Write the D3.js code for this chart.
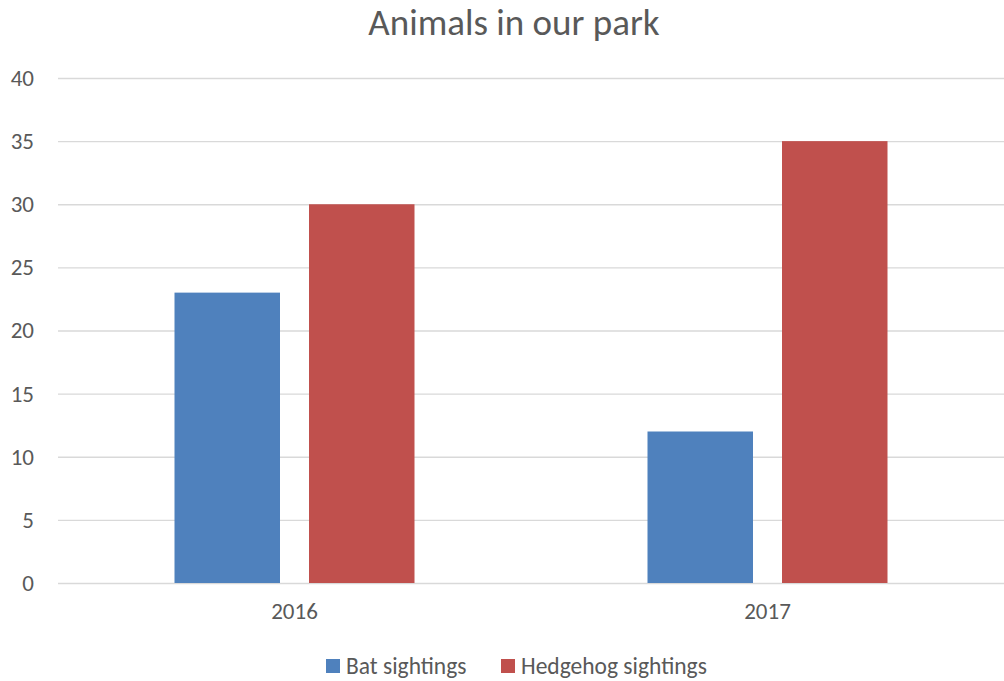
<!DOCTYPE html>
<html><head><meta charset="utf-8">
<script src="https://cdn.jsdelivr.net/npm/d3@7"></script>
<style>body{margin:0;background:#fff;}svg{display:block;}</style>
</head><body>
<svg id="c" width="1004" height="681"></svg>
<script>
const categories = ["2016", "2017"];
const seriesNames = ["Bat sightings", "Hedgehog sightings"];
const batValues = [23, 12];
const hedgehogValues = [30, 35];
const yTicks = [0, 5, 10, 15, 20, 25, 30, 35, 40];
const colors = ["#4F81BD", "#C0504D"];

(function () {
const series = [batValues, hedgehogValues];
const svg = d3.select("#c");
const font = "Carlito, Lato, 'Open Sans', sans-serif";
const mLeft = 58, mRight = 1004, mTop = 78, mBottom = 583;

const y = d3.scaleLinear().domain([0, 40]).range([mBottom, mTop]);
const x0 = d3.scaleBand().domain(categories).range([mLeft, mRight]).paddingInner(0.4926).paddingOuter(0.2463);
const x1 = d3.scaleBand().domain(seriesNames).range([0, x0.bandwidth()]).paddingInner(0.2156);

svg.append("text").attr("x", 514).attr("y", 35).attr("text-anchor", "middle")
  .attr("font-family", font).attr("font-size", 37).attr("fill", "#595959").text("Animals in our park");

const yAxis = d3.axisLeft(y).tickValues(yTicks).tickSize(-(mRight - mLeft)).tickPadding(24);
const gy = svg.append("g").attr("transform", `translate(${mLeft},0)`).call(yAxis);
gy.select(".domain").remove();
gy.selectAll(".tick line").attr("stroke", "#d9d9d9").attr("stroke-width", 1.3);
gy.selectAll(".tick text").attr("font-family", font).attr("font-size", 23).attr("fill", "#595959");

const groups = svg.append("g").selectAll("g").data(categories).join("g")
  .attr("transform", d => `translate(${x0(d)},0)`);
groups.selectAll("rect").data((d, i) => seriesNames.map((s, j) => ({s, v: series[j][i], c: colors[j]})))
  .join("rect")
  .attr("x", d => x1(d.s)).attr("width", x1.bandwidth())
  .attr("y", d => y(d.v)).attr("height", d => y(0) - y(d.v))
  .attr("fill", d => d.c);

const xAxis = d3.axisBottom(x0).tickSize(0).tickPadding(20);
const gx = svg.append("g").attr("transform", `translate(0,${mBottom})`).call(xAxis);
gx.select(".domain").remove();
gx.selectAll(".tick text").attr("font-family", font).attr("font-size", 23).attr("fill", "#595959");

const legendX = [326, 501];
const lg = svg.append("g").selectAll("g").data(seriesNames).join("g")
  .attr("transform", (d, i) => `translate(${legendX[i]},659)`);
lg.append("rect").attr("width", 14).attr("height", 14).attr("fill", (d, i) => colors[i]);
lg.append("text").attr("x", 20).attr("y", 15).attr("font-family", font).attr("font-size", 23.5)
  .attr("fill", "#595959").text(d => d);
})();
</script>
</body></html>
